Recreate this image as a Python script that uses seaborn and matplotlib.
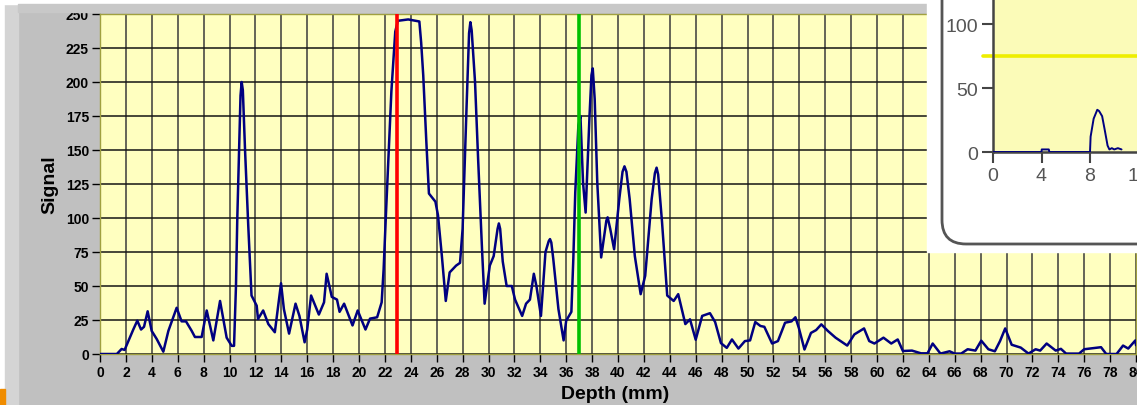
import matplotlib
matplotlib.use("Agg")
import matplotlib.pyplot as plt
import seaborn as sns
import numpy as np
from matplotlib.patches import Rectangle, FancyBboxPatch
from matplotlib.transforms import IdentityTransform

# main trace
depth = [0, 1.3, 1.67, 1.9, 2.57, 2.88, 3.17, 3.4, 3.68, 3.99, 4.38, 4.89, 5.28, 5.92, 6.3, 6.64,
         7.08, 7.33, 7.85, 8.24, 8.75, 9.27, 9.78, 10.17, 10.35, 10.5, 10.6, 10.85, 10.94, 11.03,
         11.2, 11.45, 11.7, 12.1, 12.2, 12.6, 13.0, 13.5, 13.98, 14.2, 14.6, 15.1, 15.4, 15.8,
         16.0, 16.3, 16.9, 17.3, 17.5, 17.9, 18.3, 18.5, 18.85, 19.5, 19.9, 20.5, 20.85, 21.4,
         21.75, 21.9, 22.1, 22.5, 22.8, 23.0, 23.8, 24.66, 24.8, 24.96, 25.2, 25.4, 25.9, 26.1,
         26.4, 26.7, 27.0, 27.5, 27.8, 28.0, 28.3, 28.5, 28.6, 28.7, 28.96, 29.2, 29.5, 29.7,
         30.1, 30.4, 30.7, 30.8, 30.9, 31.1, 31.4, 31.8, 32.05, 32.6, 32.9, 33.2, 33.5, 33.7,
         34.05, 34.4, 34.65, 34.75, 34.85, 35.0, 35.4, 35.8, 36.0, 36.4, 36.55, 36.7, 36.94,
         37.1, 37.3, 37.5, 37.8, 37.95, 38.05, 38.2, 38.4, 38.7, 39.1, 39.2, 39.4, 39.7, 40.1,
         40.35, 40.5, 40.65, 40.9, 41.3, 41.75, 42.1, 42.6, 42.85, 42.98, 43.1, 43.4, 43.8,
         44.3, 44.65, 45.2, 45.56, 46.0, 46.5, 47.1, 47.5, 47.95, 48.4, 48.8, 49.3, 49.8, 50.2,
         50.6, 51.0, 51.3, 51.9, 52.35, 52.9, 53.4, 53.7, 53.97, 54.4, 54.9, 55.3, 55.7, 56.2,
         56.8, 57.7, 58.25, 59.0, 59.4, 59.8, 60.5, 61.1, 61.6, 62.0, 62.7, 63.4, 63.9, 64.3,
         64.9, 65.6, 66.0, 66.5, 67.0, 67.6, 68.05, 68.6, 69.1, 69.5, 69.9, 70.4, 71.1, 71.7,
         72.25, 72.6, 73.1, 73.8, 74.2, 74.6, 75.6, 76.0, 77.3, 77.7, 78.5, 79.0, 79.4, 79.95, 80.0]
signal = [0, 0, 3.7, 3, 18, 24.5, 18, 20, 31.4, 17, 11, 1.7, 17, 34, 24, 24,
          17, 12.5, 12.5, 32, 10, 39, 12, 6, 6, 50, 99, 190, 200, 194,
          150, 94, 43, 35.5, 25.7, 32, 22, 16, 52, 33, 15, 37, 28, 8.6,
          18, 43, 29, 38, 59, 42, 40, 31, 37, 21, 32, 18, 26, 27,
          38, 62, 107, 193, 237, 245, 246, 244.5, 229, 205, 156, 118, 112, 102,
          72, 39, 60, 65, 67, 92, 180, 236, 244, 238, 200, 143, 77, 37,
          65, 72, 92, 96, 92, 68, 50, 50, 40, 28, 37, 40, 59, 50,
          28, 75, 83, 84.5, 82, 70, 33, 10, 24.5, 31, 70, 119, 168,
          175, 126, 104, 175, 205, 210, 187.5, 126, 71, 98, 100.5, 92, 77, 114,
          134, 138, 134, 114, 72, 44, 57.5, 114, 133, 137, 132, 97, 43,
          39, 44, 22, 25.5, 10.5, 28, 30, 23.5, 8, 4.5, 10.7, 4, 9.5, 10,
          23.5, 20.6, 20, 7.7, 9.5, 23, 24, 27, 19, 3.3, 15.5, 17.6, 21.8, 17,
          12, 6.2, 14.4, 18.8, 9.5, 7.7, 12, 7.7, 10.7, 2.2, 2.5, 0.5, 0.5, 7.7,
          0.3, 2, 0.3, 0.3, 3.5, 2.5, 9.8, 3.5, 2, 9.5, 18.8, 6.8, 4.7, 0.3,
          3.5, 2.5, 7.7, 2.5, 3.8, 0.3, 0.3, 3.5, 5, 0, 0, 6.2, 4, 10, 6.5]

red_cursor = 22.95
green_cursor = 37.0
x_ticks = list(range(0, 81, 2))
y_ticks = [0, 25, 50, 75, 100, 125, 150, 175, 200, 225, 250]

# small inset trace (top right)
inset_x = [0, 4.0, 4.02, 4.6, 4.65, 8.0, 8.05, 8.3, 8.6, 8.75, 9.0, 9.2, 9.45, 9.6, 9.8,
           10.0, 10.3, 10.6]
inset_y = [0, 0, 2, 2, 0, 0, 12, 26, 33, 32, 28, 18, 5, 2, 3, 2, 3, 2]
inset_threshold = 75
inset_xticks = [0, 4, 8, 12]
inset_yticks = [0, 50, 100]

sns.set_theme(style="ticks")
plt.rcParams["font.family"] = ["Liberation Sans", "DejaVu Sans"]

W, H = 1137, 406
fig = plt.figure(figsize=(W / 100, H / 100), dpi=100, facecolor="#c0c0c0")

# window chrome strips
fig.add_artist(Rectangle((0, 0), 5, H, transform=IdentityTransform(), color="white", zorder=0.5))
fig.add_artist(Rectangle((5, 0), 13, H, transform=IdentityTransform(), color="#d4d4d4", zorder=0.5))
fig.add_artist(Rectangle((0, H - 5), W, 5, transform=IdentityTransform(), color="white", zorder=0.5))
fig.add_artist(Rectangle((18, H - 13), W, 8, transform=IdentityTransform(), color="#c8c8c8", zorder=0.5))
fig.add_artist(Rectangle((0, 0), 5, 16, transform=IdentityTransform(), color="#f08c00", zorder=0.6))

ax = fig.add_axes([100 / W, 51 / H, 1036 / W, 340 / H])
ax.set_facecolor("#ffffc0")
sns.lineplot(x=depth, y=signal, ax=ax, color="#000080", linewidth=1.8, estimator=None, zorder=3)
ax.axvline(red_cursor, color="#ff0000", linewidth=2.6, zorder=4)
ax.axvline(green_cursor, color="#00c000", linewidth=2.6, zorder=4)

ax.set_xlim(0, 80)
ax.set_ylim(0, 250)
ax.set_xticks(x_ticks)
ax.set_yticks(y_ticks)
ax.set_xticklabels([str(t) for t in x_ticks], fontsize=10, fontweight="bold")
ax.set_yticklabels([str(t) for t in y_ticks], fontsize=10, fontweight="bold")
ax.tick_params(axis="both", direction="out", length=6, width=1, color="black", pad=2, labelcolor="black")
ax.xaxis.grid(True, color="#3a3a3a", linewidth=1.1)
ax.yaxis.grid(True, color="#151515", linewidth=1.1)
ax.set_axisbelow(True)
for side in ["top", "left", "right", "bottom"]:
    ax.spines[side].set_color("#a0a040")
    ax.spines[side].set_linewidth(1)

ax.set_xlabel("Depth (mm)", fontsize=14, fontweight="bold", color="black")
ax.set_ylabel("Signal", fontsize=14, fontweight="bold", color="black")
ax.xaxis.set_label_coords(0.497, -0.09)
ax.yaxis.set_label_coords(-0.04, 0.5)

# inset panel
fig.add_artist(Rectangle((927, H - 253), 220, 260, transform=IdentityTransform(),
                         color="white", zorder=1))
fig.add_artist(FancyBboxPatch((942, H - 245), 300, 300, boxstyle="round,pad=0,rounding_size=24",
                              transform=IdentityTransform(), facecolor="white",
                              edgecolor="#555555", linewidth=2, zorder=1.1))

iax = fig.add_axes([993 / W, 253 / H, 194 / W, 192 / H], zorder=2)
iax.set_facecolor("#fbfbb8")
sns.lineplot(x=inset_x, y=inset_y, ax=iax, color="#000080", linewidth=1.4, estimator=None, zorder=3)
iax.axhline(inset_threshold, xmin=-0.05, color="#eeee00", linewidth=2.6, clip_on=False, zorder=2)
iax.set_xlim(0, 16)
iax.set_ylim(0, 150)
iax.set_xticks(inset_xticks)
iax.set_yticks(inset_yticks)
iax.tick_params(axis="both", direction="out", length=8, width=1.5, color="#444444",
                labelcolor="#555555", labelsize=14, pad=3)
for side in ["top", "right"]:
    iax.spines[side].set_visible(False)
for side in ["left", "bottom"]:
    iax.spines[side].set_color("#444444")
    iax.spines[side].set_linewidth(1.8)

fig.savefig("out.png", dpi=100, facecolor=fig.get_facecolor())
